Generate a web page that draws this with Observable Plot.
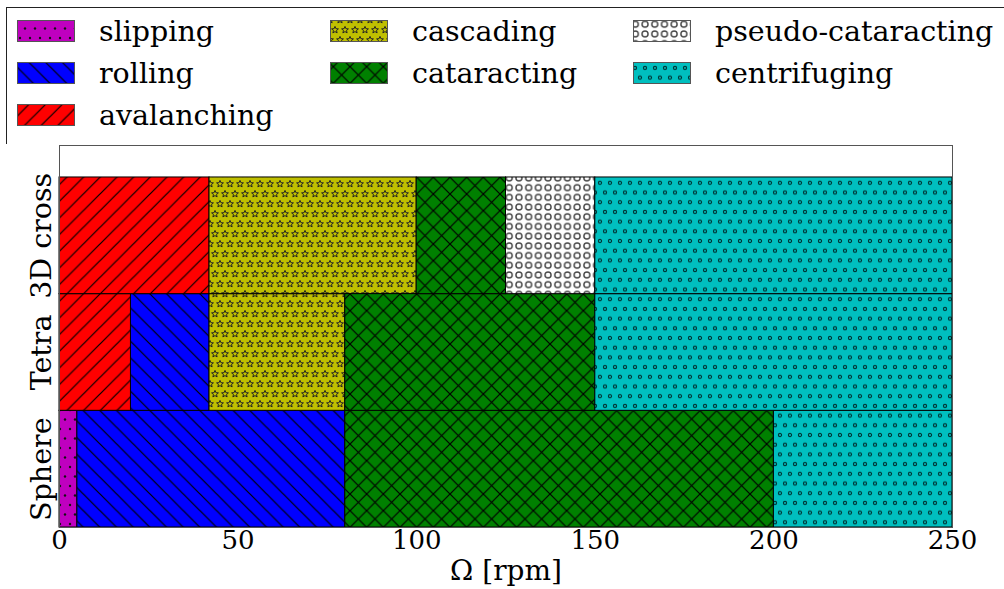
<!DOCTYPE html>
<html><head><meta charset="utf-8">
<script src="https://cdn.jsdelivr.net/npm/d3@7"></script>
<script src="https://cdn.jsdelivr.net/npm/@observablehq/plot@0.6"></script>
<style>
body{margin:0;background:#fff;font-family:'DejaVu Serif','Liberation Serif',serif;overflow:hidden;}
#legend{position:relative;width:1004px;height:144px;overflow:hidden;}
#legbox{position:absolute;left:6px;top:7px;width:1010px;height:136px;border:1px solid #222;}
#chart svg{display:block;}
svg text{font-family:'DejaVu Serif','Liberation Serif',serif;}
</style></head><body>
<svg width="0" height="0" style="position:absolute"><defs id="defs"></defs></svg>
<div id="legend"><div id="legbox"></div><svg id="legsvg" width="1004" height="144" style="position:absolute;left:0;top:0"></svg></div>
<div id="chart"></div>
<script>
// regimes, colours
const regimes = ["slipping","rolling","avalanching","cascading","cataracting","pseudo-cataracting","centrifuging"];
const regimeColors = ["#bf00bf","#0000ff","#ff0000","#bfbf00","#008000","#ffffff","#00bfbf"];
const particles = ["Sphere","Tetra","3D cross"];
// transitions [rpm] per particle
const sphereRegimes = ["slipping","rolling","cataracting","centrifuging"];
const sphereBounds = [0,5,80,200,250];
const tetraRegimes = ["avalanching","rolling","cascading","cataracting","centrifuging"];
const tetraBounds = [0,20,42,80,150,250];
const crossRegimes = ["avalanching","cascading","cataracting","pseudo-cataracting","centrifuging"];
const crossBounds = [0,42,100,125,150,250];
const xTicks = [0,50,100,150,200,250];
const xLabel = "Ω [rpm]";

const FONT = "'DejaVu Serif','Liberation Serif',serif";
const groups = [[sphereRegimes,sphereBounds],[tetraRegimes,tetraBounds],[crossRegimes,crossBounds]];
const data = [];
groups.forEach(([regs,b],pi)=>regs.forEach((r,i)=>data.push({particle:particles[pi],idx:pi,regime:r,start:b[i],end:b[i+1]})));

// hatch patterns
const NS="http://www.w3.org/2000/svg";
const defs=document.getElementById("defs");
function el(tag,attrs,parent){const e=document.createElementNS(NS,tag);for(const k in attrs)e.setAttribute(k,attrs[k]);if(parent)parent.appendChild(e);return e;}
function pattern(id,w,h,bg){const p=el("pattern",{id,width:w,height:h,patternUnits:"userSpaceOnUse"},defs);el("rect",{width:w,height:h,fill:bg},p);return p;}
const U=100/6;
function linesNE(p){el("path",{d:`M${-U/4},${U/4}L${U/4},${-U/4}M0,${U}L${U},0M${U*0.75},${U*1.25}L${U*1.25},${U*0.75}`,stroke:"#000","stroke-width":1.2,fill:"none"},p);}
function linesSE(p){el("path",{d:`M${-U/4},${U*0.75}L${U/4},${U*1.25}M0,0L${U},${U}M${U*0.75},${-U/4}L${U*1.25},${U/4}`,stroke:"#000","stroke-width":1.2,fill:"none"},p);}
function stagger(p,w,h,fn){[[0,0],[w,0],[0,h],[w,h],[w/2,h/2]].forEach(([x,y])=>fn(p,x,y));}
function starPath(cx,cy,R,r){let s="";for(let i=0;i<10;i++){const a=-Math.PI/2+i*Math.PI/5;const rr=i%2?r:R;s+=(i?"L":"M")+(cx+rr*Math.cos(a)).toFixed(2)+","+(cy+rr*Math.sin(a)).toFixed(2);}return s+"Z";}
regimes.forEach((r,i)=>{
  const id="pat"+i, c=regimeColors[i];
  if(r==="slipping"){const p=pattern(id,10,19,c);stagger(p,10,19,(p,x,y)=>el("circle",{cx:x,cy:y,r:1.2,fill:"#111"},p));}
  else if(r==="rolling"){const p=pattern(id,U,U,c);linesSE(p);}
  else if(r==="avalanching"){const p=pattern(id,U,U,c);linesNE(p);}
  else if(r==="cataracting"){const p=pattern(id,U,U,c);linesNE(p);linesSE(p);}
  else if(r==="cascading"){const p=pattern(id,10,20,c);stagger(p,10,20,(p,x,y)=>el("path",{d:starPath(x,y,3.6,1.6),fill:"none",stroke:"#222","stroke-width":1},p));}
  else if(r==="pseudo-cataracting"){const p=pattern(id,9.7,9.7,c);el("circle",{cx:4.85,cy:4.85,r:3,fill:"none",stroke:"#444","stroke-width":1.4},p);}
  else if(r==="centrifuging"){const p=pattern(id,10,19.4,c);stagger(p,10,19.4,(p,x,y)=>el("circle",{cx:x,cy:y,r:1.6,fill:"none",stroke:"#033","stroke-width":1.1},p));}
});

// legend
const leg=document.getElementById("legsvg");
const colX=[17,330,633], rowY=[20,62,104];
const legPos=[[0,0],[0,1],[0,2],[1,0],[1,1],[2,0],[2,1]];
regimes.forEach((r,i)=>{
  const [c,row]=legPos[i];
  el("rect",{x:colX[c]+0.5,y:rowY[row]+0.5,width:57,height:21,fill:`url(#pat${i})`,stroke:"#555","stroke-width":1},leg);
  const t=el("text",{x:colX[c]+82,y:rowY[row]+11,"dominant-baseline":"central","font-size":28.5,"font-family":FONT,fill:"#000"},leg);
  t.textContent=r;
});

// chart
const marks=[];
regimes.forEach((r,i)=>{
  marks.push(Plot.rect(data.filter(d=>d.regime===r),{x1:"start",x2:"end",y1:d=>d.idx,y2:d=>d.idx+1,fill:`url(#pat${i})`,stroke:"#000",strokeWidth:1}));
});
marks.push(Plot.frame({stroke:"#555",strokeWidth:1}));
marks.push(Plot.text(particles.map((p,i)=>({p,c:i+0.5})),{x:()=>0,y:"c",text:"p",rotate:-90,dx:-18,textAnchor:"middle",lineAnchor:"middle",fontSize:28.5,fill:"#000"}));
marks.push(Plot.axisX({ticks:xTicks,tickSize:0,tickPadding:3,fontSize:26,label:null}));
marks.push(Plot.text([xLabel],{frameAnchor:"bottom",text:d=>d,dy:44,lineAnchor:"middle",fontSize:28,fill:"#000"}));
const chart=Plot.plot({
  width:1004,height:445,marginLeft:59,marginRight:52,marginTop:1,marginBottom:62,
  style:{fontFamily:FONT,fontSize:"26px",color:"#000",background:"transparent",overflow:"visible"},
  x:{domain:[0,250]},
  y:{domain:[0,3.274],axis:null},
  marks
});
document.getElementById("chart").appendChild(chart);
</script>
</body></html>
